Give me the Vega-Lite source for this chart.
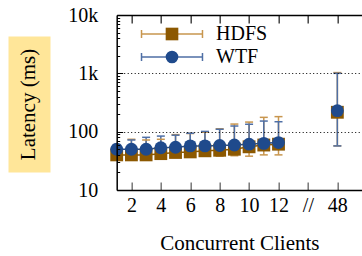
{
  "$schema": "https://vega.github.io/schema/vega-lite/v6.json",
  "autosize": "none",
  "padding": {"left": 116.7, "top": 15, "right": 0, "bottom": 66},
  "width": 245.3,
  "height": 175,
  "background": "white",
  "config": {
    "view": {"stroke": null},
    "font": "Liberation Serif",
    "axis": {"labelFont": "Liberation Serif", "titleFont": "Liberation Serif", "labelColor": "black", "titleColor": "black", "titleFontWeight": "normal"},
    "legend": {"labelFont": "Liberation Serif"}
  },
  "data": {
    "values": [
      {"clients": 1, "system": "HDFS", "latency": 40, "lo": 36, "hi": 55},
      {"clients": 2, "system": "HDFS", "latency": 40, "lo": 36, "hi": 74},
      {"clients": 3, "system": "HDFS", "latency": 40, "lo": 36, "hi": 72},
      {"clients": 4, "system": "HDFS", "latency": 42, "lo": 37, "hi": 74},
      {"clients": 5, "system": "HDFS", "latency": 44, "lo": 38, "hi": 89},
      {"clients": 6, "system": "HDFS", "latency": 45, "lo": 38, "hi": 93},
      {"clients": 7, "system": "HDFS", "latency": 47, "lo": 38, "hi": 98},
      {"clients": 8, "system": "HDFS", "latency": 48, "lo": 38, "hi": 112},
      {"clients": 9, "system": "HDFS", "latency": 50, "lo": 38.7, "hi": 135},
      {"clients": 10, "system": "HDFS", "latency": 55, "lo": 38, "hi": 146},
      {"clients": 11, "system": "HDFS", "latency": 59, "lo": 40, "hi": 176},
      {"clients": 12, "system": "HDFS", "latency": 61, "lo": 40, "hi": 181},
      {"clients": 48, "system": "HDFS", "latency": 215, "lo": 57, "hi": 1030},
      {"clients": 1, "system": "WTF", "latency": 50, "lo": 44, "hi": 60},
      {"clients": 2, "system": "WTF", "latency": 50, "lo": 44, "hi": 72},
      {"clients": 3, "system": "WTF", "latency": 50, "lo": 44, "hi": 80},
      {"clients": 4, "system": "WTF", "latency": 53, "lo": 46, "hi": 84},
      {"clients": 5, "system": "WTF", "latency": 54, "lo": 47, "hi": 87},
      {"clients": 6, "system": "WTF", "latency": 57, "lo": 49, "hi": 94},
      {"clients": 7, "system": "WTF", "latency": 57, "lo": 49, "hi": 101},
      {"clients": 8, "system": "WTF", "latency": 58, "lo": 50, "hi": 110},
      {"clients": 9, "system": "WTF", "latency": 59, "lo": 51, "hi": 125},
      {"clients": 10, "system": "WTF", "latency": 61, "lo": 53, "hi": 134},
      {"clients": 11, "system": "WTF", "latency": 63, "lo": 54, "hi": 152},
      {"clients": 12, "system": "WTF", "latency": 65, "lo": 56, "hi": 148},
      {"clients": 48, "system": "WTF", "latency": 229, "lo": 57, "hi": 1000}
    ]
  },
  "resolve": {"axis": {"x": "independent", "y": "independent"}},
  "layer": [
    {
      "mark": {"type": "rule", "strokeWidth": 1.5},
      "encoding": {
        "x": {
          "field": "clients", "type": "quantitative",
          "scale": {"type": "linear", "domain": [1, 12, 48, 54], "range": [0, 161.8, 220.65, 245.3], "nice": false, "zero": false},
          "axis": {
            "orient": "bottom", "values": [2, 4, 6, 8, 10, 12, 30, 48],
            "labelExpr": "datum.value == 30 ? '//' : datum.label",
            "labelFontSize": 20, "labelPadding": 13, "labelFlush": false, "labelOverlap": false,
            "tickSize": -8, "tickColor": "#777777", "tickWidth": 1.5,
            "domainColor": "black", "domainWidth": 1.5, "grid": false,
            "title": "Concurrent Clients", "titleFontSize": 21, "titlePadding": 17
          }
        },
        "y": {
          "field": "lo", "type": "quantitative",
          "scale": {"type": "log", "domain": [10, 10000], "nice": false},
          "axis": {
            "orient": "left",
            "values": [10, 20, 30, 40, 50, 60, 70, 80, 90, 100, 200, 300, 400, 500, 600, 700, 800, 900, 1000, 2000, 3000, 4000, 5000, 6000, 7000, 8000, 9000, 10000],
            "labelExpr": "datum.value == 10 ? '10' : datum.value == 100 ? '100' : datum.value == 1000 ? '1k' : datum.value == 10000 ? '10k' : ''",
            "labelOverlap": false, "labelFontSize": 20, "labelPadding": 25,
            "tickSize": {"condition": {"test": "datum.value == 10 || datum.value == 100 || datum.value == 1000 || datum.value == 10000", "value": -6}, "value": -3},
            "tickColor": "black", "tickWidth": 1,
            "domainColor": "black", "domainWidth": 1.5,
            "grid": true, "gridColor": "black", "gridDash": [1, 2.5], "gridWidth": 1.2,
            "gridOpacity": {"condition": {"test": "datum.value == 100 || datum.value == 1000", "value": 1}, "value": 0},
            "title": "Latency (ms)", "titleFontSize": 21, "titleX": -88.4, "titleY": 89, "titleAngle": 270, "titleAlign": "center", "titleBaseline": "middle",
            "zindex": 1
          }
        },
        "y2": {"field": "hi"},
        "stroke": {
          "field": "system", "type": "nominal",
          "scale": {"range": ["#C8964F", "#4F6FA5"]},
          "legend": {
            "orient": "top-left", "offset": 9, "title": null, "padding": 0,
            "labelFontSize": 20, "labelColor": "transparent", "labelOffset": 34, "rowPadding": 3,
            "symbolType": "M-4.82,0H4.82M-4.82,-0.63V0.63M4.82,-0.63V0.63",
            "symbolSize": 160, "symbolStrokeWidth": 1.5, "symbolFillColor": "transparent", "symbolOffset": 36.3, "zindex": 1
          }
        }
      }
    },
    {
      "mark": {"type": "point", "shape": "M-1,0H1", "filled": false, "size": 64, "strokeWidth": 1.5, "opacity": 1},
      "encoding": {
        "x": {
          "field": "clients", "type": "quantitative",
          "axis": {"orient": "top", "values": [2, 4, 6, 8, 10, 12, 30, 48], "labels": false, "tickSize": -8, "tickColor": "#444444", "tickWidth": 1.5, "domainColor": "black", "domainWidth": 1.5, "grid": false, "title": null}
        },
        "y": {
          "field": "hi", "type": "quantitative",
          "axis": {"orient": "left", "offset": 66.7, "values": [298.2], "labels": false, "domain": false, "grid": false, "ticks": true, "tickSize": 42, "tickWidth": 136, "tickColor": "#FFE699", "tickCap": "butt", "title": null, "zindex": 0}
        },
        "stroke": {"field": "system", "type": "nominal"}
      }
    },
    {
      "mark": {"type": "point", "shape": "M-1,0H1", "filled": false, "size": 64, "strokeWidth": 1.5, "opacity": 1},
      "encoding": {
        "x": {"field": "clients", "type": "quantitative", "axis": null},
        "y": {"field": "lo", "type": "quantitative", "axis": null},
        "stroke": {"field": "system", "type": "nominal"}
      }
    },
    {
      "transform": [{"filter": "datum.clients <= 12"}],
      "mark": {"type": "line", "strokeWidth": 1.5},
      "encoding": {
        "x": {"field": "clients", "type": "quantitative", "axis": null},
        "y": {"field": "latency", "type": "quantitative", "axis": null},
        "color": {"field": "system", "type": "nominal", "scale": {"domain": ["HDFS", "WTF"], "range": ["#8C5800", "#1F4A8C"]}}
      }
    },
    {
      "mark": {"type": "point", "filled": true, "size": 165, "opacity": 1, "strokeWidth": 0},
      "encoding": {
        "x": {"field": "clients", "type": "quantitative", "axis": null},
        "y": {"field": "latency", "type": "quantitative", "axis": null},
        "color": {
          "field": "system", "type": "nominal",
          "legend": {
            "orient": "none", "legendX": 45.3, "legendY": 9, "title": null, "padding": 0,
            "labelFontSize": 20, "labelColor": "black", "labelOffset": 34, "rowPadding": 3,
            "symbolSize": 160, "symbolStrokeWidth": 0, "zindex": 2
          }
        },
        "shape": {
          "field": "system", "type": "nominal",
          "scale": {"domain": ["HDFS", "WTF"], "range": ["square", "circle"]},
          "legend": {
            "orient": "none", "legendX": 45.3, "legendY": 9, "title": null, "padding": 0,
            "labelFontSize": 20, "labelColor": "black", "labelOffset": 34, "rowPadding": 3,
            "symbolSize": 160, "symbolStrokeWidth": 0, "zindex": 2
          }
        }
      }
    }
  ]
}
